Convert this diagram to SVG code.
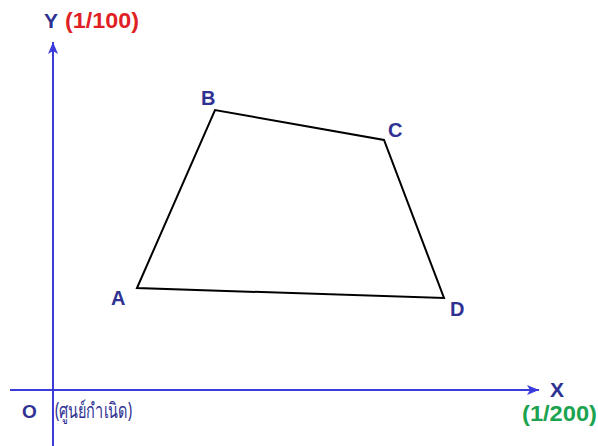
<svg xmlns="http://www.w3.org/2000/svg" width="598" height="446" viewBox="0 0 598 446">
<defs>
<style>
.axis{stroke:#3b3bdc;stroke-width:2;fill:none}
.edge{stroke:#000;stroke-width:2;fill:none;stroke-linejoin:miter}
.lbl{font-family:"Liberation Sans",Arial,sans-serif;font-weight:bold;font-size:20px;fill:#2e3192}
.big{font-size:21px}
.red{font-family:"Liberation Sans",Arial,sans-serif;font-weight:bold;font-size:22px;fill:#e01f26}
.green{font-family:"Liberation Sans",Arial,sans-serif;font-weight:bold;font-size:22px;fill:#1ba34f}
.thai{font-family:"Noto Sans","DejaVu Sans",sans-serif;font-size:21px;fill:#2e3192}
</style>
<marker id="arr" viewBox="0 0 12 10" refX="12" refY="5" markerWidth="12" markerHeight="10" markerUnits="userSpaceOnUse" orient="auto">
<path d="M0,0 L12,5 L0,10 L3,5 Z" fill="#3b3bdc"/>
</marker>
</defs>
<rect width="598" height="446" fill="#fff"/>
<g id="axes">
<line class="axis" x1="53" y1="446" x2="53" y2="42" marker-end="url(#arr)"/>
<line class="axis" x1="10" y1="390" x2="539" y2="390" marker-end="url(#arr)"/>
</g>
<g id="connectors">
<polygon class="edge" points="137,288 215,110 384,140 444,298"/>
</g>
<g id="node-A"><text class="lbl" x="111" y="305">A</text></g>
<g id="node-B"><text class="lbl" x="201" y="105">B</text></g>
<g id="node-C"><text class="lbl" x="388" y="137">C</text></g>
<g id="node-D"><text class="lbl" x="450" y="316">D</text></g>
<g id="label-Y"><text class="lbl big" x="44" y="28">Y</text><text class="red" x="65" y="28" textLength="74" lengthAdjust="spacingAndGlyphs">(1/100)</text></g>
<g id="label-X"><text class="lbl big" x="550" y="397">X</text><text class="green" x="522" y="421" textLength="75" lengthAdjust="spacingAndGlyphs">(1/200)</text></g>
<g id="label-O"><text class="lbl" x="22" y="418" style="font-size:19px">O</text><text class="thai" x="55" y="418" textLength="77" lengthAdjust="spacingAndGlyphs">(ศูนย์กำเนิด)</text></g>
</svg>
